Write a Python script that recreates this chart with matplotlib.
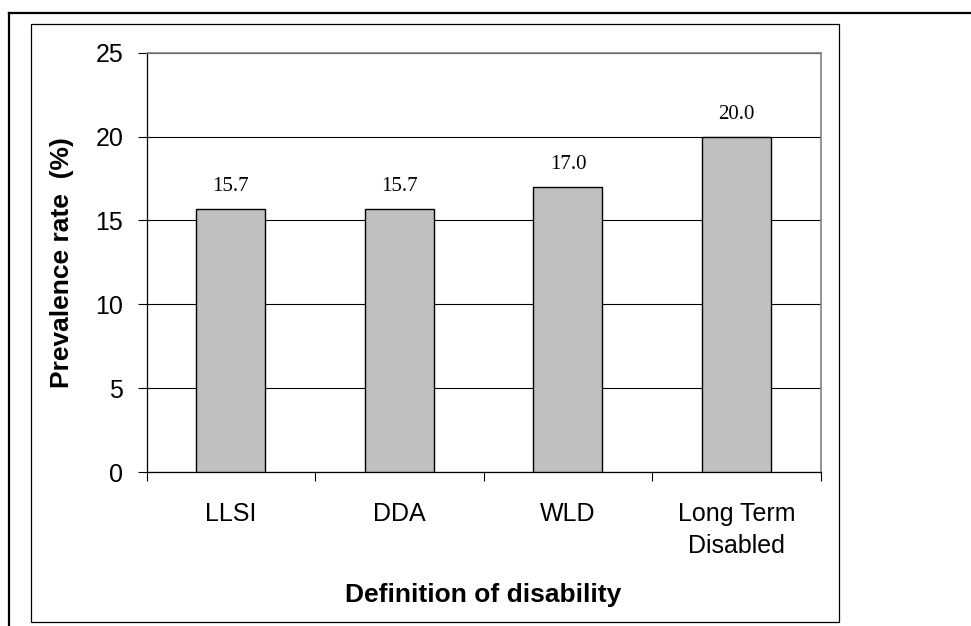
import matplotlib
matplotlib.use("Agg")
import matplotlib.pyplot as plt
from matplotlib.lines import Line2D
from matplotlib.patches import Rectangle

categories = ["LLSI", "DDA", "WLD", "Long Term\nDisabled"]
values = [15.7, 15.7, 17.0, 20.0]
value_labels = ["15.7", "15.7", "17.0", "20.0"]
y_ticks = [0, 5, 10, 15, 20, 25]

W, H = 971, 626
fig = plt.figure(figsize=(W / 100, H / 100), dpi=100)

def fx(px):
    return px / W

def fy(py):
    return 1 - py / H

# outer frame lines
fig.add_artist(Line2D([fx(9), fx(971)], [fy(13), fy(13)], color="black", lw=1.6))
fig.add_artist(Line2D([fx(9), fx(9)], [fy(13), fy(626)], color="black", lw=1.6))
# chart area box
fig.add_artist(Rectangle((fx(30.7), fy(622)), fx(839) - fx(30.7), fy(24) - fy(622),
                         fill=False, edgecolor="black", lw=0.9))

left, top, right, bottom = 146.7, 52.7, 820.7, 472.0
ax = fig.add_axes([fx(left), fy(bottom), fx(right) - fx(left), fy(top) - fy(bottom)])

x = list(range(len(categories)))
ax.bar(x, values, width=0.41, color="#c0c0c0", edgecolor="black", linewidth=1.0, zorder=3)
ax.set_xlim(-0.5, len(categories) - 0.5)
ax.set_ylim(0, 25)

ax.set_yticks(y_ticks)
ax.set_yticklabels([str(t) for t in y_ticks], fontsize=18, family="Liberation Sans")
ax.yaxis.grid(True, color="black", linewidth=0.8, zorder=0)
ax.tick_params(axis="y", direction="out", length=6.3, width=0.8, pad=10.5)

# boundaries ticks (major) and centered labels (minor)
ax.set_xticks([i - 0.5 for i in range(len(categories) + 1)])
ax.set_xticklabels([])
ax.tick_params(axis="x", which="major", direction="out", length=6.3, width=0.8)
ax.set_xticks(x, minor=True)
ax.set_xticklabels(categories, minor=True, fontsize=18, family="Liberation Sans",
                   linespacing=1.45)
ax.tick_params(axis="x", which="minor", length=0, pad=21.5)

for s in ["left", "bottom"]:
    ax.spines[s].set_color("black")
    ax.spines[s].set_linewidth(0.9)
for s in ["top", "right"]:
    ax.spines[s].set_color("#808080")
    ax.spines[s].set_linewidth(1.2)

for xi, v, lab in zip(x, values, value_labels):
    ax.annotate(lab, (xi, v), xytext=(0, 16), textcoords="offset points",
                ha="center", va="center", fontsize=15, family="Liberation Serif")

fig.text(fx(62), fy(263), "Prevalence rate  (%)", rotation=90, ha="center", va="center",
         fontsize=19, fontweight="bold", family="Liberation Sans")
fig.text(fx(483), fy(595), "Definition of disability", ha="center", va="center",
         fontsize=19, fontweight="bold", family="Liberation Sans")

fig.savefig("out.png", dpi=100)
